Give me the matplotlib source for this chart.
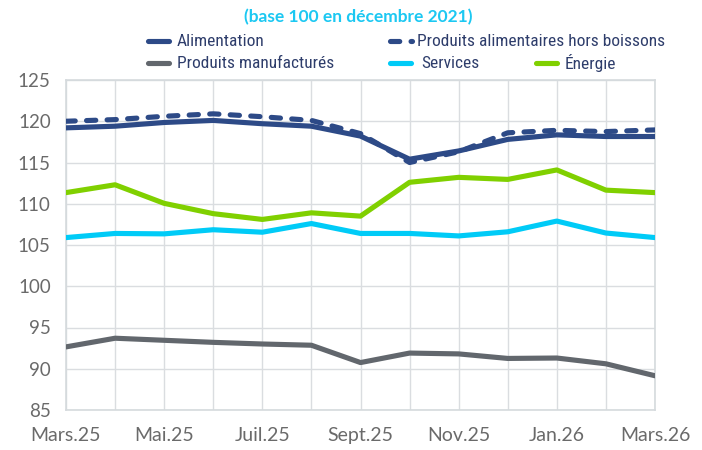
import matplotlib
matplotlib.use("Agg")
import matplotlib.pyplot as plt
from matplotlib.lines import Line2D
from matplotlib import font_manager

months = ["Mars.25", "Avr.25", "Mai.25", "Juin.25", "Juil.25", "Août.25", "Sept.25",
          "Oct.25", "Nov.25", "Déc.25", "Jan.26", "Fév.26", "Mars.26"]
tick_labels = ["Mars.25", "Mai.25", "Juil.25", "Sept.25", "Nov.25", "Jan.26", "Mars.26"]

alimentation = [119.2, 119.4, 119.85, 120.1, 119.7, 119.4, 118.2, 115.4, 116.4, 117.8, 118.35, 118.15, 118.15]
alim_hors_boissons = [120.0, 120.2, 120.6, 120.9, 120.55, 120.1, 118.5, 115.0, 116.3, 118.6, 118.9, 118.75, 118.95]
manufactures = [92.65, 93.7, 93.45, 93.2, 93.0, 92.85, 90.75, 91.9, 91.8, 91.25, 91.3, 90.6, 89.15]
services = [105.9, 106.4, 106.35, 106.85, 106.55, 107.6, 106.4, 106.4, 106.1, 106.6, 107.9, 106.45, 105.9]
energie = [111.35, 112.3, 110.05, 108.8, 108.1, 108.9, 108.5, 112.6, 113.2, 112.95, 114.1, 111.65, 111.35]

NAVY = "#2D4A87"
GRAY = "#62676D"
CYAN = "#00CBF7"
GREEN = "#80D000"
TXT = "#2E3D6B"
TICK = "#6A6A6A"

avail = {f.name for f in font_manager.fontManager.ttflist}
tick_font = "Lato" if "Lato" in avail else "DejaVu Sans"
leg_font = "DejaVu Sans"
leg_size = 10.5
for cand, size in [("Roboto Condensed", 12.5), ("Liberation Sans Narrow", 12.5),
                   ("Roboto", 10.7), ("Liberation Sans", 10.7)]:
    if cand in avail:
        leg_font, leg_size = cand, size
        break

fig = plt.figure(figsize=(7.02, 4.5), dpi=100)
ax = fig.add_axes([66/702, 1-410/450, (655-66)/702, (410-80)/450])

x = list(range(len(months)))
lw = 3.7
ax.plot(x, manufactures, color=GRAY, lw=lw, solid_capstyle="round", zorder=3)
ax.plot(x, services, color=CYAN, lw=lw, solid_capstyle="round", zorder=3)
ax.plot(x, energie, color=GREEN, lw=lw, solid_capstyle="round", zorder=3)
ax.plot(x, alimentation, color=NAVY, lw=lw, solid_capstyle="round", zorder=4)
ax.plot(x, alim_hors_boissons, color=NAVY, lw=lw, linestyle=(0, (1.8, 2.2)),
        dash_capstyle="round", zorder=5)

ax.set_xlim(0, len(months)-1)
ax.set_ylim(85, 125)
ax.set_yticks([85, 90, 95, 100, 105, 110, 115, 120, 125])
ax.set_xticks(x)
ax.set_xticklabels([m if m in tick_labels else "" for m in months])
ax.grid(True, color="#DADDE0", lw=1.0)
ax.set_axisbelow(True)
for s in ax.spines.values():
    s.set_color("#D5DADD")
    s.set_linewidth(1.2)
ax.tick_params(length=0, colors=TICK)
ax.tick_params(axis="y", labelsize=13.5, pad=11)
ax.tick_params(axis="x", labelsize=14, pad=12)
for lab in ax.get_xticklabels() + ax.get_yticklabels():
    lab.set_fontfamily(tick_font)

fig.text(358/702, 1-17/450, "(base 100 en décembre 2021)", color="#1CC8F2",
         fontsize=12.5, fontweight="bold", ha="center", va="center", family=tick_font)

def leg(x0, x1, y, color, text, tx, dashed=False):
    yy = 1 - y/450
    kw = dict(color=color, lw=lw, transform=fig.transFigure, solid_capstyle="round")
    if dashed:
        kw.update(linestyle=(0, (1.8, 2.2)), dash_capstyle="round")
    fig.add_artist(Line2D([x0/702, x1/702], [yy, yy], **kw))
    fig.text(tx/702, yy, text, color=TXT, fontsize=leg_size, ha="left", va="center",
             family=leg_font)

leg(148, 169, 41, NAVY, "Alimentation", 177)
leg(390, 412, 41, NAVY, "Produits alimentaires hors boissons", 417, dashed=True)
leg(148, 169, 63, GRAY, "Produits manufacturés", 177)
leg(390, 411, 63, CYAN, "Services", 421)
leg(536, 557, 63, GREEN, "Énergie", 565)

fig.savefig("out.png", dpi=100)
